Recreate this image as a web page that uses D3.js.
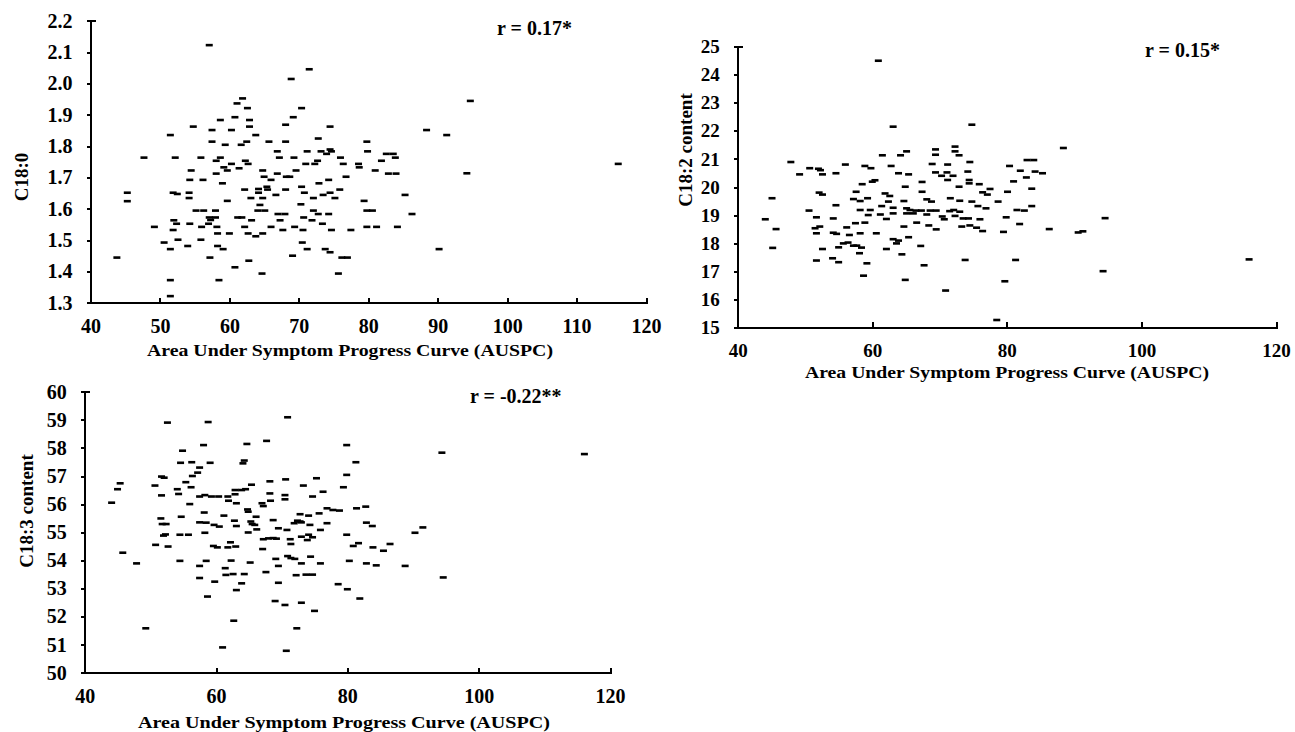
<!DOCTYPE html>
<html>
<head>
<meta charset="utf-8">
<script src="https://cdn.jsdelivr.net/npm/d3@7"></script>
<style>
  body { margin: 0; background: #fff; }
  svg { display: block; }
  text { font-family: "Liberation Serif", "Times New Roman", serif; font-weight: bold; fill: #000; }
  .axis path, .axis line { stroke: #000; stroke-width: 2px; shape-rendering: crispEdges; }
  .axis text { font-size: 18px; }
</style>
</head>
<body>
<div id="chart"></div>
<script>
// shared x axis
var auspcTicks = [40, 50, 60, 70, 80, 90, 100, 110, 120];
var auspcTicksWide = [40, 60, 80, 100, 120];
var xTitle = 'Area Under Symptom Progress Curve (AUSPC)';

// panel A : C18:0
var c180Ticks = [1.3, 1.4, 1.5, 1.6, 1.7, 1.8, 1.9, 2.0, 2.1, 2.2];
var c180Pts = [
[57.1,2.122],[71.5,2.045],[68.9,2.014],[61.9,1.952],[61.1,1.936],[62.6,1.921],[70.4,1.921],
[94.7,1.944],[91.3,1.835],[94.2,1.713],[116.0,1.743],[90.2,1.471],[43.8,1.444],[45.3,1.651],[45.3,1.624],
[60.8,1.892],[69.2,1.892],[58.7,1.883],[62.9,1.883],[54.8,1.862],[62.9,1.862],[68.1,1.868],[74.5,1.862],
[51.5,1.835],[57.5,1.851],[60.3,1.851],[63.8,1.835],[88.4,1.851],
[57.5,1.814],[59.4,1.804],[61.7,1.804],[62.5,1.814],[65.7,1.814],[68.1,1.814],[72.8,1.824],[79.8,1.814],
[66.9,1.783],[71.2,1.783],[73.2,1.783],[74.5,1.789],[74.7,1.783],[79.9,1.783],[82.6,1.775],[83.6,1.775],
[47.7,1.763],[52.2,1.763],[55.9,1.763],[58.7,1.763],[67.2,1.763],[69.3,1.763],[74.0,1.775],[76.0,1.763],[83.9,1.763],
[58.1,1.753],[62.3,1.753],[71.0,1.743],[72.3,1.743],[72.7,1.753],[81.9,1.753],
[60.3,1.743],[62.7,1.743],[76.4,1.743],[78.6,1.743],[78.7,1.732],
[59.2,1.732],[61.4,1.729],[59.7,1.722],[54.5,1.722],[58.1,1.712],[64.8,1.722],[66.9,1.712],[69.6,1.722],[81.0,1.722],[82.9,1.712],[84.0,1.712],
[65.0,1.702],[68.2,1.702],[68.7,1.702],[76.8,1.702],
[54.3,1.692],[56.2,1.692],[66.0,1.692],[74.3,1.692],[59.0,1.681],[72.9,1.681],[65.4,1.670],[70.4,1.670],
[62.2,1.661],[64.2,1.663],[65.5,1.661],[68.1,1.661],
[51.9,1.651],[52.5,1.647],[54.2,1.651],[64.2,1.651],[70.8,1.651],[74.5,1.651],[75.9,1.661],[73.5,1.644],
[54.2,1.634],[63.1,1.634],[64.8,1.634],[66.7,1.644],[72.1,1.634],[75.2,1.634],[85.3,1.644],
[59.7,1.625],[79.4,1.625],[64.4,1.612],[70.3,1.614],
[55.2,1.594],[56.3,1.594],[58.0,1.594],[64.1,1.594],[65.1,1.594],[72.1,1.594],[79.8,1.594],[80.6,1.594],
[67.0,1.583],[68.0,1.583],[72.8,1.583],[74.3,1.583],[86.3,1.583],
[57.1,1.572],[58.0,1.572],[61.2,1.572],[61.8,1.572],[70.7,1.572],
[52.0,1.563],[57.3,1.564],[63.2,1.563],[67.3,1.563],[71.9,1.563],
[52.4,1.552],[54.3,1.552],[57.0,1.552],[73.4,1.552],
[49.2,1.542],[56.0,1.542],[58.2,1.542],[62.2,1.542],[66.0,1.542],[69.4,1.542],[79.8,1.542],[81.2,1.542],[84.2,1.542],
[51.9,1.532],[67.7,1.532],[70.6,1.532],[74.7,1.532],[77.5,1.532],
[58.3,1.521],[60.0,1.521],[62.7,1.521],[64.8,1.521],[63.8,1.512],
[52.6,1.501],[55.9,1.501],[50.6,1.492],[70.5,1.492],
[51.5,1.471],[54.0,1.481],[58.3,1.481],[59.1,1.471],[71.2,1.471],[73.8,1.471],[74.5,1.461],
[69.1,1.450],[57.2,1.444],[76.2,1.444],[77.0,1.444],
[62.8,1.434],[60.8,1.413],[64.7,1.393],[75.7,1.393],[51.5,1.372],[58.5,1.372],[51.5,1.321]
];

// panel B : C18:2 content
var c182Ticks = [15, 16, 17, 18, 19, 20, 21, 22, 23, 24, 25];
var c182Pts = [
[60.9,24.5],[78.5,15.26],[94.6,18.89],[94.3,17.0],[116.0,17.42],[90.6,18.38],[91.3,18.42],
[63.1,22.15],[74.8,22.22],[88.4,21.39],
[47.9,20.89],[50.7,20.67],[52.0,20.65],[52.3,20.6],[52.6,20.45],[49.2,20.45],[54.6,20.49],[56.0,20.80],[58.9,20.75],[59.8,20.67],[62.8,20.75],[61.5,21.13],[64.2,21.13],[65.1,21.27],[69.4,21.34],[69.4,21.15],[72.3,21.44],[72.3,21.27],[72.9,21.13],
[68.9,20.82],[71.2,20.80],[74.5,20.89],[74.2,20.55],[69.4,20.52],[71.1,20.52],[70.3,20.40],[72.0,20.40],[71.2,20.25],[74.4,20.25],[63.9,20.49],[65.4,20.45],[67.4,20.18],[60.0,20.19],[60.4,20.24],[58.5,20.10],[64.9,20.01],[72.9,20.01],[74.4,20.13],[75.9,20.10],
[80.4,20.75],[83.0,20.96],[84.0,20.96],[82.0,20.58],[84.2,20.55],[85.3,20.49],[82.9,20.34],[81.0,20.20],[83.7,19.94],[80.1,19.83],[77.5,19.93],[76.4,19.81],[77.1,19.73],
[67.4,19.83],[57.6,19.83],[61.9,19.77],[62.6,19.68],[52.1,19.80],[52.6,19.73],
[45.1,19.60],[57.2,19.57],[58.2,19.50],[59.3,19.60],[62.4,19.48],[64.7,19.50],[68.1,19.56],[68.8,19.48],[71.6,19.60],[73.0,19.51],[74.8,19.48],[75.7,19.32],[76.9,19.24],[78.7,19.48],[83.7,19.32],
[50.6,19.16],[54.6,19.35],[58.2,19.18],[59.7,19.18],[61.4,19.32],[63.1,19.26],[65.1,19.24],[65.6,19.18],[66.5,19.16],[67.3,19.16],[68.6,19.16],[69.5,19.16],[71.5,19.14],[72.1,19.18],[73.0,19.12],[81.5,19.18],[82.6,19.16],
[44.1,18.85],[51.7,18.92],[54.2,18.88],[59.4,19.00],[61.2,19.02],[63.1,19.06],[65.1,19.06],[66.1,19.06],[68.1,19.02],[70.4,18.95],[70.7,18.85],[72.3,18.97],[73.5,18.88],[74.3,18.88],[76.0,18.85],[79.9,18.92],
[45.7,18.50],[51.5,18.53],[52.2,18.59],[56.2,18.56],[57.5,18.71],[58.9,18.73],[62.1,18.86],[64.7,18.59],[66.6,18.73],[68.4,18.63],[69.5,18.49],[73.3,18.59],[74.5,18.63],[75.5,18.55],[76.4,18.43],[79.5,18.40],[81.9,18.68],[86.3,18.50],
[51.7,18.35],[54.2,18.37],[54.7,18.33],[56.6,18.29],[58.2,18.35],[60.6,18.35],[63.1,18.14],[63.9,18.09],[65.4,18.21],[63.6,17.99],[55.7,17.99],[56.4,18.02],[57.2,17.91],[57.7,17.91],
[45.2,17.83],[52.6,17.79],[55.0,17.85],[58.4,17.84],[62.1,17.79],[67.2,17.90],
[51.7,17.38],[54.1,17.46],[55.0,17.32],[58.1,17.64],[59.2,17.28],[64.4,17.60],[67.7,17.21],[73.8,17.40],[81.3,17.40],
[58.7,16.84],[64.9,16.69],[79.7,16.64],[70.9,16.31]
];

// panel C : C18:3 content
var c183Ticks = [50, 51, 52, 53, 54, 55, 56, 57, 58, 59, 60];
var c183Pts = [
[52.6,58.90],[58.8,58.92],[70.9,59.09],[67.7,58.25],[64.7,58.14],[58.1,58.10],[79.9,58.10],[54.9,57.90],
[54.6,57.47],[56.3,57.49],[57.5,57.30],[59.1,57.47],[64.3,57.55],[64.1,57.45],[81.3,57.49],
[57.2,57.12],[56.4,57.00],[51.7,56.98],[52.1,56.94],[79.9,57.04],
[55.4,56.78],[50.7,56.66],[56.2,56.60],[65.4,56.69],[68.2,56.81],[70.6,56.88],[75.3,56.92],[73.3,56.66],[79.4,56.60],[45.4,56.74],
[45.0,56.53],[54.1,56.53],[62.9,56.50],[63.9,56.50],[64.5,56.53],[68.2,56.38],[74.7,56.27],[76.3,56.44],
[44.1,56.05],[51.7,56.31],[54.3,56.36],[57.5,56.27],[58.3,56.32],[59.3,56.27],[60.4,56.27],[61.8,56.27],[62.9,56.35],[67.0,56.03],[67.2,55.93],[68.3,56.12],[70.5,56.32],[70.5,56.17],[76.9,55.85],[77.8,55.79],[78.8,55.77],[81.4,55.85],[82.8,55.91],
[56.0,56.00],[61.9,56.12],[63.1,56.03],[64.8,55.81],[64.9,55.73],[66.1,55.55],[58.2,55.70],[61.2,55.59],[72.8,55.64],[74.1,55.59],[72.4,55.41],[73.0,55.35],[75.7,55.67],
[51.6,55.49],[54.7,55.55],[51.8,55.29],[52.4,55.29],[57.5,55.35],[58.5,55.34],[59.7,55.26],[60.5,55.20],[62.8,55.41],[63.1,55.22],[65.3,55.38],[65.5,55.29],[65.9,55.26],[66.2,55.10],[68.7,55.43],[69.5,55.14],[70.8,55.08],[71.9,55.32],[72.8,55.38],[74.3,55.26],[75.9,55.08],[76.9,55.32],[79.9,54.91],[82.9,55.34],[83.8,55.22],
[52.0,54.88],[52.3,54.92],[54.5,54.91],[55.8,54.91],[58.3,54.98],[64.9,54.99],[67.2,54.75],[68.0,54.78],[68.7,54.79],[69.2,54.77],[71.3,54.75],[71.4,54.58],[73.0,54.84],[73.9,54.72],[74.1,54.91],[74.7,54.82],[81.7,54.61],[80.9,54.51],[83.9,54.46],[85.5,54.34],[86.5,54.58],
[50.8,54.55],[52.7,54.49],[59.6,54.51],[60.2,54.46],[61.8,54.46],[62.2,54.64],[63.0,54.49],[67.1,54.40],
[45.8,54.27],[47.9,53.89],[54.5,53.98],[58.5,53.98],[57.5,53.80],[62.3,53.99],[65.2,53.92],[69.1,54.05],[70.9,54.15],[71.4,54.08],[72.0,54.05],[73.0,53.89],[74.4,54.13],[75.9,53.89],[80.3,53.98],[82.9,53.89],[84.4,53.82],
[61.4,53.72],[61.5,53.48],[62.6,53.51],[64.3,53.51],[67.6,53.58],[69.5,53.80],[72.2,53.47],[73.7,53.49],[74.7,53.49],[78.6,53.15],[80.0,52.97],
[57.5,53.37],[59.8,53.24],[63.9,53.18],[63.1,52.94],[69.5,53.20],
[58.7,52.71],[69.0,52.55],[70.5,52.41],[73.0,52.49],[75.0,52.20],[81.9,52.64],
[62.7,51.85],[49.3,51.58],[72.3,51.58],[61.0,50.90],[70.7,50.78],
[90.3,54.98],[91.5,55.17],[94.4,57.83],[116.1,57.78],[94.6,53.39],[88.8,53.80]
];

var width = 1295, height = 732;

var svg = d3.select('#chart')
  .append('svg')
  .attr('width', width)
  .attr('height', height);

// one scatter panel
function drawPanel(p) {
  var x = d3.scaleLinear().domain([40, 120]).range([p.left, p.right]);
  var y = d3.scaleLinear().domain(p.yDomain).range([p.bottom, p.top]);

  var g = svg.append('g');

  // dash markers
  g.selectAll('rect.pt')
    .data(p.points)
    .enter()
    .append('rect')
    .attr('class', 'pt')
    .attr('x', function(d) { return x(d[0]) - 3.5; })
    .attr('y', function(d) { return y(d[1]) - 1.3; })
    .attr('width', 7)
    .attr('height', 2.6)
    .attr('fill', '#000');

  g.append('g')
    .attr('class', 'axis')
    .attr('transform', 'translate(' + p.left + ',0)')
    .call(d3.axisLeft(y).tickValues(p.yTicks).tickFormat(p.yFormat)
      .tickSizeInner(4).tickSizeOuter(-5).tickPadding(14))
    .selectAll('text').style('font-size', p.fs + 'px');

  g.append('g')
    .attr('class', 'axis')
    .attr('transform', 'translate(0,' + p.bottom + ')')
    .call(d3.axisBottom(x).tickValues(p.xTicks).tickFormat(d3.format('d'))
      .tickSizeInner(-5).tickSizeOuter(-5).tickPadding(16))
    .selectAll('text').style('font-size', p.fs + 'px');

  g.append('text')
    .attr('x', p.xtX)
    .attr('y', p.xtY)
    .attr('text-anchor', 'middle')
    .attr('textLength', p.xtLen)
    .attr('lengthAdjust', 'spacingAndGlyphs')
    .style('font-size', '17px')
    .text(xTitle);

  g.append('text')
    .attr('transform', 'translate(' + p.ytX + ',' + p.ytY + ') rotate(-90)')
    .attr('text-anchor', 'middle')
    .attr('dy', '0.35em')
    .style('font-size', '19px')
    .text(p.yTitle);

  g.append('text')
    .attr('x', p.rX)
    .attr('y', p.rY)
    .style('font-size', '20px')
    .text(p.r);
}

drawPanel({
  points: c180Pts, left: 90.5, right: 646, top: 20.7, bottom: 302.7,
  yDomain: [1.3, 2.2], yTicks: c180Ticks, yFormat: d3.format('.1f'), xTicks: auspcTicks, fs: 20,
  xtX: 350, xtY: 356, xtLen: 406, ytX: 21, ytY: 177, yTitle: 'C18:0',
  rX: 497, rY: 35, r: 'r = 0.17*'
});

drawPanel({
  points: c182Pts, left: 737.7, right: 1276, top: 46.7, bottom: 327.3,
  yDomain: [15, 25], yTicks: c182Ticks, yFormat: d3.format('d'), xTicks: auspcTicksWide, fs: 19,
  xtX: 1007, xtY: 378, xtLen: 404, ytX: 685, ytY: 150, yTitle: 'C18:2 content',
  rX: 1145, rY: 57, r: 'r = 0.15*'
});

drawPanel({
  points: c183Pts, left: 84.7, right: 610, top: 391.7, bottom: 672.7,
  yDomain: [50, 60], yTicks: c183Ticks, yFormat: d3.format('d'), xTicks: auspcTicksWide, fs: 20,
  xtX: 344, xtY: 728, xtLen: 412, ytX: 26, ytY: 511, yTitle: 'C18:3 content',
  rX: 470, rY: 403, r: 'r = -0.22**'
});
</script>
</body>
</html>
